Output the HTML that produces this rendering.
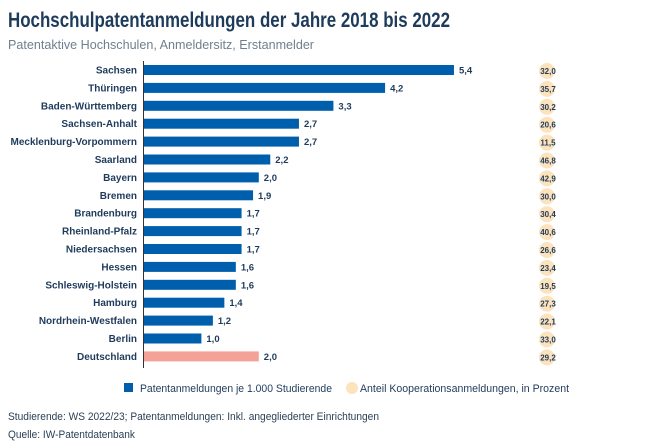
<!DOCTYPE html>
<html><head><meta charset="utf-8"><style>
html,body{margin:0;padding:0;background:#fff;}
svg{display:block;font-family:"Liberation Sans",sans-serif;}
</style></head><body>
<svg width="668" height="445" viewBox="0 0 668 445" xmlns="http://www.w3.org/2000/svg">
<text x="8" y="27" font-size="21" font-weight="bold" fill="#1f3b5c" textLength="442" lengthAdjust="spacingAndGlyphs">Hochschulpatentanmeldungen der Jahre 2018 bis 2022</text>
<text x="8" y="49" font-size="13" fill="#6f7f8f" textLength="306" lengthAdjust="spacingAndGlyphs">Patentaktive Hochschulen, Anmeldersitz, Erstanmelder</text>
<g id="rows" font-size="10" font-weight="bold" fill="#1f3b5c"></g>
<line x1="143.5" y1="61" x2="143.5" y2="368" stroke="#333" stroke-width="1"/>
<rect x="124" y="383" width="9" height="9" fill="#005fad"/>
<text x="140" y="392" font-size="11" fill="#1f3b5c" textLength="192" lengthAdjust="spacingAndGlyphs">Patentanmeldungen je 1.000 Studierende</text>
<circle cx="352" cy="388" r="6" fill="#fde3bd"/>
<text x="360" y="392" font-size="11" fill="#1f3b5c" textLength="209" lengthAdjust="spacingAndGlyphs">Anteil Kooperationsanmeldungen, in Prozent</text>
<text x="8" y="420" font-size="11" fill="#2b3f55" textLength="371" lengthAdjust="spacingAndGlyphs">Studierende: WS 2022/23; Patentanmeldungen: Inkl. angegliederter Einrichtungen</text>
<text x="8" y="438" font-size="11" fill="#2b3f55" textLength="127" lengthAdjust="spacingAndGlyphs">Quelle: IW-Patentdatenbank</text>
</svg>
<script>
const d=[["Sachsen",5.4,"5,4","32,0"],["Thüringen",4.2,"4,2","35,7"],["Baden-Württemberg",3.3,"3,3","30,2"],["Sachsen-Anhalt",2.7,"2,7","20,6"],["Mecklenburg-Vorpommern",2.7,"2,7","11,5"],["Saarland",2.2,"2,2","46,8"],["Bayern",2.0,"2,0","42,9"],["Bremen",1.9,"1,9","30,0"],["Brandenburg",1.7,"1,7","30,4"],["Rheinland-Pfalz",1.7,"1,7","40,6"],["Niedersachsen",1.7,"1,7","26,6"],["Hessen",1.6,"1,6","23,4"],["Schleswig-Holstein",1.6,"1,6","19,5"],["Hamburg",1.4,"1,4","27,3"],["Nordrhein-Westfalen",1.2,"1,2","22,1"],["Berlin",1.0,"1,0","33,0"],["Deutschland",2.0,"2,0","29,2"]];
let s="";
d.forEach((r,i)=>{const y=70+i*17.9;const w=r[1]*57.4;const c=i==16?"#f4a198":"#005fad";
s+=`<text x="137" y="${y+3.5}" text-anchor="end">${r[0]}</text>`;
s+=`<rect x="144" y="${y-5}" width="${w}" height="10" fill="${c}"/>`;
s+=`<text x="${144+w+5}" y="${y+3.5}" font-size="9.5">${r[2]}</text>`;
s+=`<circle cx="547" cy="${y+1}" r="8" fill="#fde3bd"/>`;
s+=`<text x="548" y="${y+4}" font-size="8" text-anchor="middle">${r[3]}</text>`;});
document.getElementById("rows").innerHTML=s;
</script>
</body></html>
